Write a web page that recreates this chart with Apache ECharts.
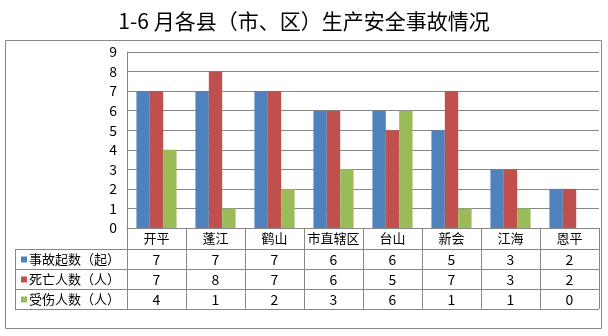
<!DOCTYPE html>
<html>
<head>
<meta charset="utf-8">
<script src="https://cdn.jsdelivr.net/npm/echarts@6/dist/echarts.min.js"></script>
<style>
  html, body { margin: 0; padding: 0; background: #fff; }
  #chart { width: 608px; height: 336px; }
</style>
</head>
<body>
<div id="chart"></div>
<script>
// Counties / districts
const categories = ['开平', '蓬江', '鹤山', '市直辖区', '台山', '新会', '江海', '恩平'];
// Series names (table row headers)
const seriesNames = ['事故起数（起）', '死亡人数（人）', '受伤人数（人）'];
// Values per series
const accidents = [7, 7, 7, 6, 6, 5, 3, 2];
const deaths    = [7, 8, 7, 6, 5, 7, 3, 2];
const injuries  = [4, 1, 2, 3, 6, 1, 1, 0];
// Y-axis range
const yMin = 0, yMax = 9, yStep = 1;

const colors = ['#4F81BD', '#C0504D', '#9BBB59'];
const lineColor = '#878787';
const font = '"Noto Sans CJK SC", "Noto Sans", sans-serif';

const G = { left: 127, top: 52, width: 472, height: 176 };
const tableTop = G.top + G.height;        // 228
const rowY = [249, 269, 289, 309];        // horizontal rules of the data table
const tableLeft = 15;
const tableRight = G.left + G.width;

const chart = echarts.init(document.getElementById('chart'), null, { renderer: 'canvas' });

const dataRows = [accidents, deaths, injuries];

chart.setOption({
  animation: false,
  color: colors,
  title: {
    text: '1-6 月各县（市、区）生产安全事故情况',
    left: 'center',
    top: 6,
    textStyle: { fontFamily: font, fontSize: 21, fontWeight: 'normal', color: '#000' }
  },
  grid: { left: G.left, top: G.top, width: G.width, height: G.height, containLabel: false },
  xAxis: {
    type: 'category',
    data: categories,
    boundaryGap: true,
    axisLine: { show: true, lineStyle: { color: lineColor, width: 1 } },
    axisTick: { show: true, length: rowY[3] - tableTop, lineStyle: { color: lineColor, width: 1 } },
    axisLabel: { margin: 4, fontFamily: font, fontSize: 13, color: '#000', interval: 0 }
  },
  yAxis: {
    type: 'value',
    min: yMin, max: yMax, interval: yStep,
    axisLine: { show: true, lineStyle: { color: lineColor, width: 1 } },
    axisTick: { show: false },
    axisLabel: { margin: 10, fontFamily: font, fontSize: 14, color: '#000' },
    splitLine: { show: true, lineStyle: { color: lineColor, width: 1 } }
  },
  series: dataRows.map((d, i) => ({
    name: seriesNames[i],
    type: 'bar',
    data: d,
    barGap: '0%',
    barCategoryGap: '32%'
  }))
});

// Data table beneath the axis, aligned to the category positions
const graphics = [];
graphics.push({
  type: 'rect', shape: { x: 5.5, y: 40.5, width: 596, height: 288 },
  style: { fill: null, stroke: lineColor, lineWidth: 1 }, silent: true
});
rowY.forEach(y => {
  graphics.push({
    type: 'line', shape: { x1: tableLeft, y1: y + 0.5, x2: tableRight, y2: y + 0.5 },
    style: { stroke: lineColor, lineWidth: 1 }, silent: true
  });
});
graphics.push({
  type: 'line', shape: { x1: tableLeft + 0.5, y1: rowY[0], x2: tableLeft + 0.5, y2: rowY[3] + 1 },
  style: { stroke: lineColor, lineWidth: 1 }, silent: true
});
seriesNames.forEach((name, r) => {
  const yc = (rowY[r] + rowY[r + 1]) / 2 + 0.5;
  graphics.push({
    type: 'rect', shape: { x: 21, y: yc - 3, width: 6, height: 6 },
    style: { fill: colors[r] }, silent: true
  });
  graphics.push({
    type: 'text', x: 29, y: yc,
    style: { text: name, fontFamily: font, fontSize: 13, fill: '#000', align: 'left', verticalAlign: 'middle' },
    silent: true
  });
  dataRows[r].forEach((v, c) => {
    const xc = chart.convertToPixel({ xAxisIndex: 0 }, categories[c]);
    graphics.push({
      type: 'text', x: xc, y: yc,
      style: { text: String(v), fontFamily: font, fontSize: 14, fill: '#000', align: 'center', verticalAlign: 'middle' },
      silent: true
    });
  });
});
chart.setOption({ graphic: graphics });
</script>
</body>
</html>
